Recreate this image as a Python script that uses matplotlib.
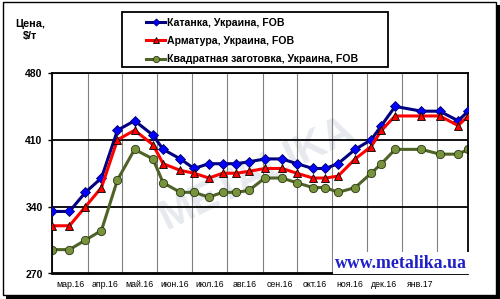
import numpy as np
import matplotlib
matplotlib.use('Agg')
import matplotlib.pyplot as plt
import matplotlib.dates as mdates
from matplotlib.patches import Rectangle
from matplotlib.ticker import FixedLocator, NullFormatter

plt.rcParams['font.family'] = ['Liberation Sans', 'DejaVu Sans']

# --- данные ---
dates = ['2016-03-01', '2016-03-16', '2016-03-30', '2016-04-13', '2016-04-27',
         '2016-05-12', '2016-05-28', '2016-06-06', '2016-06-21', '2016-07-03',
         '2016-07-16', '2016-07-28', '2016-08-09', '2016-08-20', '2016-09-03',
         '2016-09-18', '2016-10-01', '2016-10-15', '2016-10-26', '2016-11-06',
         '2016-11-21', '2016-12-05', '2016-12-14', '2016-12-26', '2017-01-18',
         '2017-02-03', '2017-02-19', '2017-02-28']
katanka = [335, 335, 355, 370, 420, 430, 415, 400, 390, 380, 385, 385, 385, 387,
           390, 390, 385, 380, 380, 385, 400, 410, 425, 445, 440, 440, 430, 440]
armatura = [320, 320, 340, 360, 410, 420, 405, 385, 378, 375, 370, 375, 375, 377,
            380, 380, 375, 370, 370, 372, 390, 403, 420, 435, 435, 435, 425, 435]
zagotovka = [295, 295, 305, 315, 368, 400, 390, 365, 355, 355, 350, 355, 355, 357,
             370, 370, 365, 360, 360, 355, 360, 375, 385, 400, 400, 395, 395, 400]
series_names = ['Катанка, Украина, FOB', 'Арматура, Украина, FOB',
                'Квадратная заготовка, Украина, FOB']
month_labels = ['мар.16', 'апр.16', 'май.16', 'июн.16', 'июл.16', 'авг.16',
                'сен.16', 'окт.16', 'ноя.16', 'дек.16', 'янв.17']
y_ticks = [270, 340, 410, 480]

W, H = 500, 299
x = np.array(dates, dtype='datetime64[D]')

fig = plt.figure(figsize=(W / 100, H / 100), dpi=100)


def px_rect(x0, y0, x1, y1, **kw):
    # прямоугольник в пикселях (начало координат сверху слева)
    return Rectangle((x0 / W, 1 - y1 / H), (x1 - x0) / W, (y1 - y0) / H,
                     transform=fig.transFigure, **kw)


# рамка с тенью
fig.add_artist(px_rect(6, 5, 500, 299, facecolor='black', edgecolor='none', zorder=-3))
fig.add_artist(px_rect(2.5, 1.5, 496, 295, facecolor='white', edgecolor='black',
                       lw=1, zorder=-2))

ax = fig.add_axes([52.3 / W, 1 - 273.5 / H, 416 / W, 200.5 / H])

ax.plot(x, katanka, color='#000080', lw=2.2, marker='D', ms=4.8,
        mfc='#0000ff', mec='#000060', mew=0.6, label=series_names[0], zorder=3)
ax.plot(x, armatura, color='#ff0000', lw=2.2, marker='^', ms=6.3,
        mfc='#ff0000', mec='black', mew=0.6, label=series_names[1], zorder=4)
ax.plot(x, zagotovka, color='#4f6228', lw=2.2, marker='o', ms=6,
        mfc='#77933c', mec='#2a3614', mew=0.6, label=series_names[2], zorder=2)

ax.set_ylim(270, 480)
ax.set_xlim(x[0], x[-1])
ax.set_yticks(y_ticks)
ax.set_yticklabels([str(v) for v in y_ticks], fontsize=7.5, fontweight='bold')
ax.tick_params(axis='y', length=3, width=1, pad=4)

# месяцы: сетка по первым числам, подписи посередине
month_starts = np.arange(np.datetime64('2016-03'), np.datetime64('2017-03'),
                         dtype='datetime64[M]').astype('datetime64[D]')
ax.xaxis.set_major_locator(FixedLocator(mdates.date2num(month_starts)))
ax.xaxis.set_major_formatter(NullFormatter())
mids = mdates.date2num(month_starts[:len(month_labels)]) + 15.5
ax.xaxis.set_minor_locator(FixedLocator(mids))
ax.xaxis.set_minor_formatter(plt.FixedFormatter(month_labels))
ax.tick_params(axis='x', which='both', length=0, labelsize=6.3, pad=5)

ax.grid(axis='x', which='major', color='#808080', lw=0.8)
ax.grid(axis='y', color='black', lw=1.3)
for s in ax.spines.values():
    s.set_color('black')
    s.set_linewidth(1.3)

# водяной знак
ax.text(0.49, 0.5, 'METALIKA', transform=ax.transAxes, rotation=26,
        fontsize=30, fontweight='bold', color='#e6e9ed', ha='center',
        va='center', zorder=0.5)

ax.text(0.997, 0.052, 'www.metalika.ua', transform=ax.transAxes, ha='right',
        va='center', fontsize=12.8, fontweight='bold', color='#2020c8',
        family='Liberation Serif', zorder=6,
        bbox=dict(facecolor='white', edgecolor='none', pad=1.5))

fig.text(30 / W, 1 - 30 / H, 'Цена,\n$/т', ha='center', va='center',
         fontsize=7.8, fontweight='bold', linespacing=1.3)

# легенда
fig.add_artist(px_rect(122, 12, 388, 67, facecolor='white', edgecolor='black',
                       lw=1.3, zorder=1))
fig.legend(loc='upper left', bbox_to_anchor=(146 / W, 1 - 17.5 / H), frameon=False,
           handlelength=1.8, handletextpad=0.15, borderpad=0,
           borderaxespad=0, labelspacing=0.8, markerscale=0.75,
           prop={'weight': 'bold', 'size': 7.6})

fig.savefig('out.png', dpi=100)
